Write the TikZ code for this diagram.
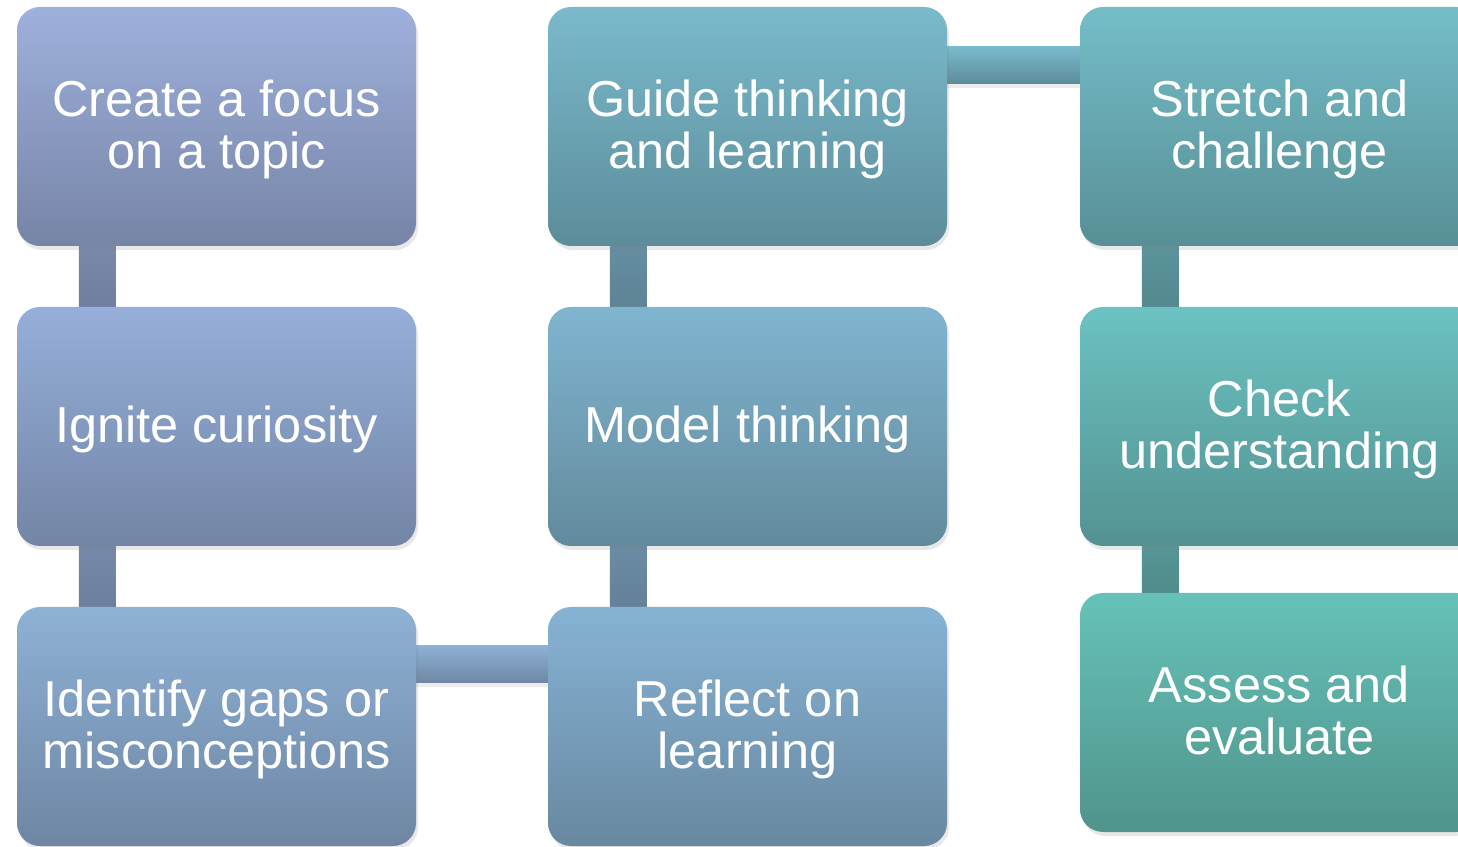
\documentclass[tikz,border=0pt]{standalone}
\usepackage{fontspec}
\setmainfont{Liberation Sans}
\usetikzlibrary{shadows,calc}
\definecolor{aT}{RGB}{158,176,220}\definecolor{aB}{RGB}{118,132,166}
\definecolor{bT}{RGB}{150,175,218}\definecolor{bB}{RGB}{114,133,165}
\definecolor{cT}{RGB}{142,177,214}\definecolor{cB}{RGB}{110,134,163}
\definecolor{dT}{RGB}{134,179,212}\definecolor{dB}{RGB}{104,136,160}
\definecolor{eT}{RGB}{128,181,208}\definecolor{eB}{RGB}{98,138,156}
\definecolor{fT}{RGB}{122,186,204}\definecolor{fB}{RGB}{92,140,153}
\definecolor{gT}{RGB}{116,189,199}\definecolor{gB}{RGB}{88,143,150}
\definecolor{hT}{RGB}{108,194,194}\definecolor{hB}{RGB}{84,146,146}
\definecolor{iT}{RGB}{102,194,184}\definecolor{iB}{RGB}{80,148,140}
\newcommand{\btxt}[1]{\raisebox{0pt}[\dimexpr\height+10pt\relax][\depth]{\begin{tabular}{@{}c@{}}#1\end{tabular}}}
\begin{document}
\begin{tikzpicture}[x=1pt,y=1pt,
  box/.style={rounded corners=23pt, minimum width=399pt, minimum height=239pt,
    inner sep=0pt, text=white, font=\fontsize{50.5}{51}\selectfont, align=center,
    drop shadow={shadow xshift=2pt, shadow yshift=-4pt, opacity=0.18}},
  conn/.style={drop shadow={shadow xshift=0pt, shadow yshift=-4pt, opacity=0.15}}]
\useasboundingbox (0,0) rectangle (1458,846);
\clip (0,0) rectangle (1458,846);
% node positions
\coordinate (p1) at (216.5,719.5);
\coordinate (p2) at (216.5,419.5);
\coordinate (p3) at (216.5,119.5);
\coordinate (p4) at (747.5,119.5);
\coordinate (p5) at (747.5,419.5);
\coordinate (p6) at (747.5,719.5);
\coordinate (p7) at (1279.5,719.5);
\coordinate (p8) at (1279.5,419.5);
\coordinate (p9) at (1279.5,133.5);
% invisible placeholders to anchor connectors
\foreach \i in {1,...,9}{\node[minimum width=399pt, minimum height=239pt, inner sep=0pt] (n\i) at (p\i) {};}
% connectors
\path[conn, top color=aB!90!aT, bottom color=aB!95!black] ($(n1.south west)+(62,2)$) rectangle ($(n2.north west)+(99,-2)$);
\path[conn, top color=bB!90!bT, bottom color=bB!95!black] ($(n2.south west)+(62,2)$) rectangle ($(n3.north west)+(99,-2)$);
\path[conn, top color=cT, bottom color=cB] ($(n3.north east)+(-2,-39)$) rectangle ($(n4.north west)+(2,-76)$);
\path[conn, top color=dB!90!dT, bottom color=dB!95!black] ($(n4.north west)+(62,-2)$) rectangle ($(n5.south west)+(99,2)$);
\path[conn, top color=eB!90!eT, bottom color=eB!95!black] ($(n5.north west)+(62,-2)$) rectangle ($(n6.south west)+(99,2)$);
\path[conn, top color=fT, bottom color=fB] ($(n6.north east)+(-2,-40)$) rectangle ($(n7.north west)+(2,-77)$);
\path[conn, top color=gB!90!gT, bottom color=gB!95!black] ($(n7.south west)+(62,2)$) rectangle ($(n8.north west)+(99,-2)$);
\path[conn, top color=hB!90!hT, bottom color=hB!95!black] ($(n8.south west)+(62,2)$) rectangle ($(n9.north west)+(99,-2)$);
% boxes
\node[box, top color=aT, bottom color=aB] (b1) at (p1) {\btxt{Create a focus\\on a topic}};
\node[box, top color=bT, bottom color=bB] (b2) at (p2) {\btxt{Ignite curiosity}};
\node[box, top color=cT, bottom color=cB] (b3) at (p3) {\btxt{Identify gaps or\\misconceptions}};
\node[box, top color=dT, bottom color=dB] (b4) at (p4) {\btxt{Reflect on\\learning}};
\node[box, top color=eT, bottom color=eB] (b5) at (p5) {\btxt{Model thinking}};
\node[box, top color=fT, bottom color=fB] (b6) at (p6) {\btxt{Guide thinking\\and learning}};
\node[box, top color=gT, bottom color=gB] (b7) at (p7) {\btxt{Stretch and\\challenge}};
\node[box, top color=hT, bottom color=hB] (b8) at (p8) {\btxt{Check\\understanding}};
\node[box, top color=iT, bottom color=iB] (b9) at (p9) {\btxt{Assess and\\evaluate}};
\end{tikzpicture}
\end{document}
